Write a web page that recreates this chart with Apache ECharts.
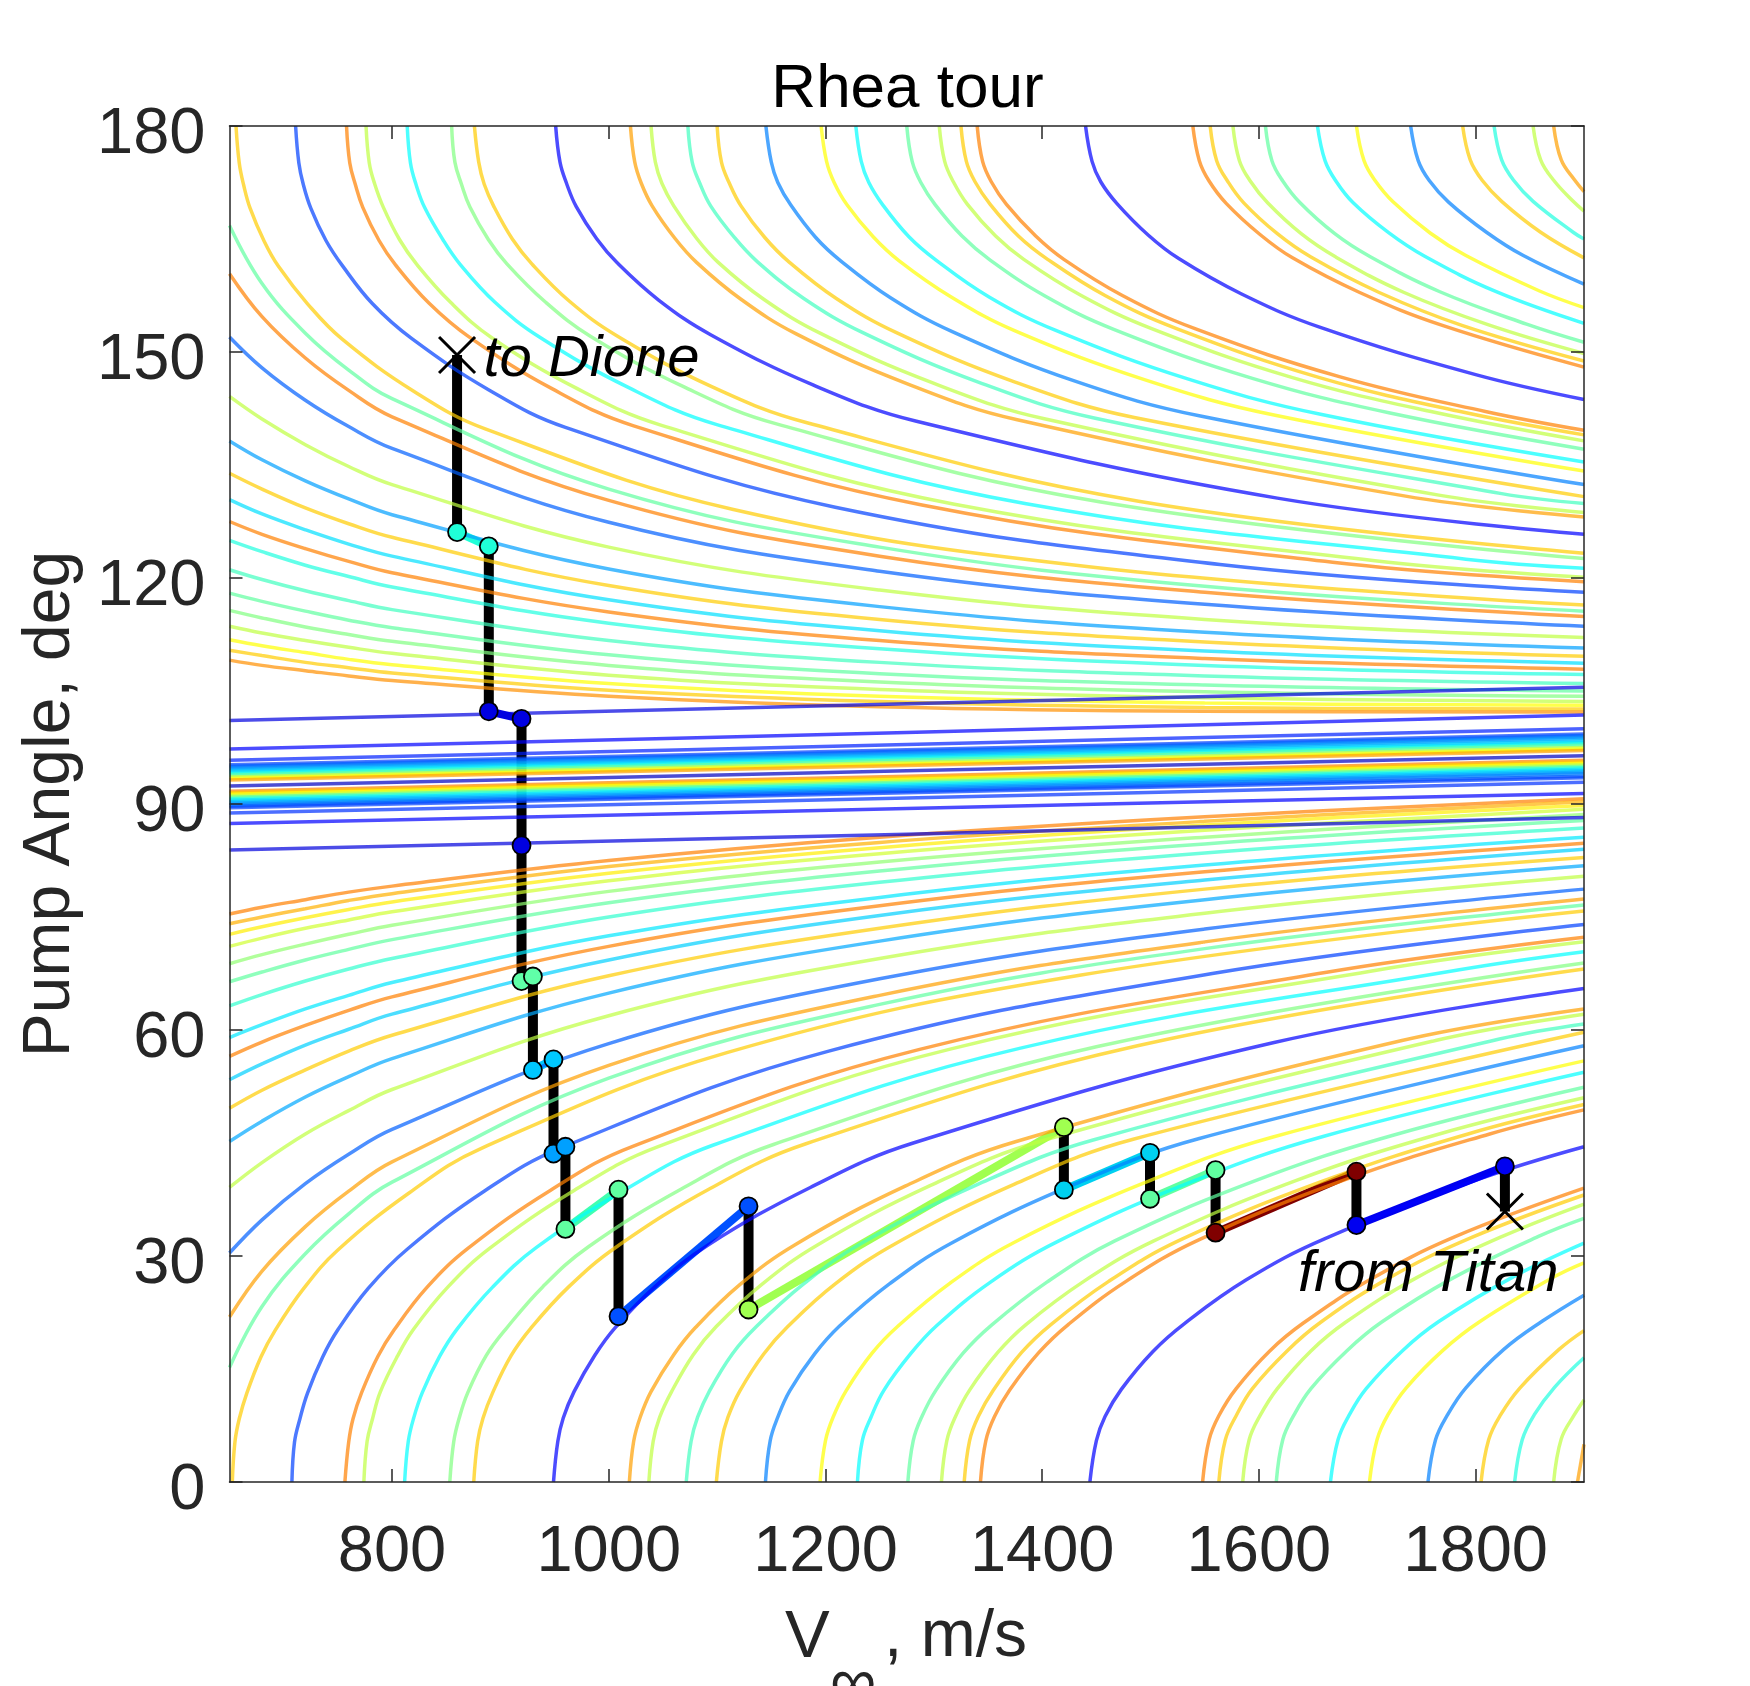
<!DOCTYPE html>
<html>
<head>
<meta charset="utf-8">
<title>Rhea tour</title>
<script src="https://cdn.jsdelivr.net/npm/echarts@6/dist/echarts.min.js"></script>
<style>
html, body { margin: 0; padding: 0; background: #fff; overflow: hidden; }
#chart { width: 1750px; height: 1686px; }
</style>
</head>
<body>
<div id="chart"></div>
<script>
const xTicks = [800, 1000, 1200, 1400, 1600, 1800];
const yTicks = [0, 30, 60, 90, 120, 150, 180];

// contours that leave through the top of the box
const upperTop = [
  [[656,180],[659,175.1],[663,172.2],[669,169.1],[682,164.7],[695,161.4],[722,156.4],[754,151.7],[820,144.8],[886,139.8],[1115,129.1],[1443,121.5],[1900,116.4]],
  [[711,180],[714,175.1],[718,172.3],[725,169.1],[739,164.8],[754,161.5],[782,156.4],[818,151.8],[889,145],[960,140],[1209,129.4],[1564,121.8],[1900,118.1]],
  [[758,180],[761,175.1],[766,172.3],[773,169.2],[788,164.8],[803,161.6],[834,156.5],[872,151.9],[948,145.1],[1023,140.2],[1289,129.7],[1668,122.1],[1900,119.5]],
  [[776,180],[779,175.1],[784,172.3],[792,169.2],[807,164.9],[823,161.6],[854,156.6],[892,151.9],[970,145.2],[1048,140.3],[1319,129.8],[1707,122.3],[1900,120.1]],
  [[814,180],[817,175.1],[822,172.3],[830,169.2],[847,164.9],[863,161.6],[895,156.6],[936,152],[1018,145.3],[1099,140.4],[1384,129.9],[1791,122.5],[1900,121.3]],
  [[855,180],[858,175.2],[864,172.3],[872,169.2],[889,164.9],[906,161.7],[941,156.7],[983,152.1],[1069,145.4],[1154,140.5],[1454,130.1],[1900,122.6]],
  [[876,180],[880,175.2],[885,172.3],[894,169.3],[911,165],[929,161.7],[964,156.7],[1007,152.2],[1095,145.4],[1183,140.6],[1489,130.2],[1900,123.3]],
  [[951,180],[955,175.2],[961,172.4],[970,169.3],[989,165],[1008,161.8],[1046,156.9],[1094,152.3],[1189,145.6],[1284,140.8],[1617,130.6],[1900,125.8]],
  [[1020,180],[1024,175.2],[1030,172.4],[1040,169.4],[1061,165.1],[1081,161.9],[1122,157],[1173,152.4],[1275,145.8],[1377,141],[1734,130.9],[1900,128.1]],
  [[1039,180],[1043,175.2],[1049,172.4],[1060,169.4],[1081,165.1],[1101,161.9],[1143,157],[1195,152.5],[1299,145.9],[1403,141.1],[1766,131],[1900,128.7]],
  [[1073,180],[1077,175.2],[1084,172.4],[1094,169.4],[1116,165.2],[1137,162],[1180,157.1],[1234,152.6],[1341,146],[1449,141.2],[1824,131.2],[1900,129.9]],
  [[1100,180],[1104,175.2],[1111,172.5],[1122,169.4],[1144,165.2],[1166,162],[1210,157.1],[1265,152.6],[1375,146],[1485,141.3],[1900,130.8]],
  [[1145,180],[1150,175.2],[1156,172.5],[1168,169.5],[1191,165.2],[1214,162.1],[1260,157.2],[1317,152.7],[1431,146.1],[1546,141.5],[1900,132.4]],
  [[1196,180],[1201,175.3],[1208,172.5],[1220,169.5],[1244,165.3],[1268,162.1],[1316,157.3],[1375,152.8],[1495,146.3],[1615,141.6],[1900,134.2]],
  [[1228,180],[1233,175.3],[1240,172.5],[1253,169.5],[1277,165.3],[1302,162.2],[1351,157.3],[1412,152.9],[1535,146.4],[1658,141.7],[1900,135.4]],
  [[1275,180],[1280,175.3],[1288,172.5],[1301,169.6],[1326,165.4],[1352,162.2],[1403,157.4],[1466,153],[1594,146.5],[1721,141.9],[1900,137.1]],
  [[1305,180],[1310,175.3],[1318,172.6],[1331,169.6],[1357,165.4],[1383,162.3],[1436,157.5],[1501,153.1],[1631,146.6],[1762,142],[1900,138.2]],
  [[1325,180],[1330,175.3],[1338,172.6],[1352,169.6],[1378,165.4],[1405,162.3],[1458,157.5],[1524,153.1],[1656,146.6],[1789,142],[1900,139]],
  [[1340,180],[1345,175.3],[1353,172.6],[1367,169.6],[1394,165.4],[1420,162.3],[1474,157.5],[1541,153.1],[1675,146.7],[1809,142.1],[1900,139.6]],
  [[1440,180],[1446,175.3],[1454,172.6],[1469,169.7],[1498,165.5],[1526,162.4],[1584,157.7],[1656,153.3],[1800,147],[1900,143.7]],
  [[1539,180],[1545,175.4],[1554,172.7],[1570,169.7],[1601,165.6],[1631,162.5],[1693,157.9],[1770,153.5],[1900,148]],
  [[1555,180],[1561,175.4],[1571,172.7],[1586,169.8],[1617,165.7],[1648,162.6],[1711,157.9],[1788,153.5],[1900,148.8]],
  [[1576,180],[1582,175.4],[1592,172.7],[1608,169.8],[1639,165.7],[1671,162.6],[1734,157.9],[1812,153.6],[1900,149.8]],
  [[1606,180],[1612,175.4],[1622,172.7],[1638,169.8],[1670,165.7],[1702,162.7],[1767,158],[1847,153.7],[1900,151.3]],
  [[1654,180],[1661,175.4],[1671,172.7],[1687,169.8],[1720,165.8],[1753,162.7],[1819,158],[1900,153.8]],
  [[1690,180],[1697,175.4],[1707,172.8],[1724,169.9],[1758,165.8],[1791,162.8],[1859,158.1],[1900,155.9]],
  [[1740,180],[1747,175.4],[1757,172.8],[1775,169.9],[1810,165.9],[1844,162.8],[1900,159]],
  [[1788,180],[1795,175.5],[1806,172.8],[1824,170],[1860,165.9],[1900,162.5]],
  [[1817,180],[1824,175.5],[1835,172.8],[1853,170],[1890,165.9],[1900,165]],
  [[1853,180],[1860,175.5],[1872,172.8],[1890,170],[1900,168.7]],
  [[1872,180],[1879,175.5],[1891,172.9],[1900,171.3]]
];

// contours that leave through the bottom of the box
const lowerBottom = [
  [[652.6,0],[655,5.3],[659,8.4],[666,11.8],[679,16.6],[692,20.1],[718,25.6],[750,30.8],[816,38.4],[881,44.2],[1109,57],[1436,67.3],[1900,75.8]],
  [[707.6,0],[710,5.3],[715,8.4],[722,11.8],[736,16.6],[750,20.2],[778,25.7],[814,30.9],[885,38.6],[955,44.3],[1203,57.2],[1557,67.5],[1900,74]],
  [[756.5,0],[760,5.3],[764,8.4],[772,11.9],[787,16.7],[802,20.2],[832,25.8],[870,31],[946,38.7],[1021,44.5],[1286,57.4],[1664,67.7],[1900,72.3]],
  [[774,0],[777,5.4],[782,8.4],[789,11.9],[805,16.7],[820,20.3],[851,25.8],[890,31],[968,38.7],[1045,44.5],[1316,57.5],[1703,67.8],[1900,71.7]],
  [[811.6,0],[815,5.4],[820,8.5],[828,11.9],[844,16.7],[860,20.3],[893,25.9],[933,31.1],[1015,38.8],[1096,44.7],[1380,57.6],[1785,68],[1900,70.4]],
  [[853.3,0],[857,5.4],[862,8.5],[870,11.9],[887,16.8],[905,20.3],[939,25.9],[981,31.2],[1067,38.9],[1152,44.8],[1451,57.8],[1900,68.9]],
  [[875.4,0],[879,5.4],[884,8.5],[893,11.9],[910,16.8],[928,20.4],[963,25.9],[1007,31.2],[1094,39],[1182,44.9],[1488,57.9],[1900,68.1]],
  [[949,0],[953,5.4],[958,8.5],[968,12],[987,16.8],[1006,20.5],[1044,26.1],[1091,31.4],[1186,39.1],[1281,45],[1613,58.3],[1900,65.5]],
  [[1019,0],[1023,5.4],[1029,8.6],[1039,12],[1060,16.9],[1080,20.5],[1121,26.2],[1172,31.5],[1274,39.3],[1376,45.2],[1732,58.6],[1900,62.8]],
  [[1037,0],[1041,5.4],[1047,8.6],[1058,12],[1078,16.9],[1099,20.6],[1141,26.2],[1193,31.5],[1296,39.3],[1400,45.3],[1763,58.6],[1900,62.1]],
  [[1071.5,0],[1076,5.4],[1082,8.6],[1093,12.1],[1114,17],[1136,20.6],[1179,26.2],[1232,31.6],[1339,39.4],[1447,45.4],[1822,58.8],[1900,60.8]],
  [[1099.3,0],[1104,5.4],[1110,8.6],[1121,12.1],[1143,17],[1165,20.6],[1209,26.3],[1264,31.6],[1374,39.5],[1484,45.5],[1900,59.7]],
  [[1144.6,0],[1149,5.5],[1156,8.6],[1167,12.1],[1190,17],[1213,20.7],[1259,26.3],[1316,31.7],[1431,39.6],[1545,45.6],[1900,57.9]],
  [[1195,0],[1200,5.5],[1207,8.6],[1219,12.1],[1243,17.1],[1267,20.7],[1315,26.4],[1374,31.8],[1494,39.7],[1613,45.8],[1900,55.9]],
  [[1229.5,0],[1234,5.5],[1242,8.6],[1254,12.2],[1279,17.1],[1303,20.8],[1352,26.5],[1414,31.9],[1537,39.8],[1660,45.9],[1900,54.4]],
  [[1276,0],[1281,5.5],[1289,8.7],[1302,12.2],[1327,17.1],[1353,20.8],[1404,26.5],[1467,32],[1595,39.9],[1723,46],[1900,52.4]],
  [[1307,0],[1312,5.5],[1320,8.7],[1333,12.2],[1359,17.2],[1385,20.9],[1438,26.6],[1503,32],[1634,40],[1764,46.1],[1900,51]],
  [[1328,0],[1333,5.5],[1341,8.7],[1355,12.2],[1381,17.2],[1408,20.9],[1461,26.6],[1527,32.1],[1660,40],[1793,46.2],[1900,50.1]],
  [[1343,0],[1348,5.5],[1356,8.7],[1370,12.2],[1397,17.2],[1424,20.9],[1477,26.6],[1544,32.1],[1679,40.1],[1813,46.2],[1900,49.4]],
  [[1444,0],[1450,5.5],[1458,8.7],[1473,12.3],[1502,17.3],[1531,21],[1588,26.8],[1661,32.3],[1805,40.3],[1900,44.5]],
  [[1548,0],[1554,5.6],[1563,8.8],[1579,12.4],[1610,17.4],[1641,21.1],[1703,26.9],[1780,32.5],[1900,39]],
  [[1563,0],[1569,5.6],[1579,8.8],[1594,12.4],[1626,17.4],[1657,21.2],[1719,27],[1797,32.5],[1900,38.1]],
  [[1585,0],[1591,5.6],[1601,8.8],[1617,12.4],[1648,17.4],[1680,21.2],[1744,27],[1823,32.5],[1900,36.9]],
  [[1616,0],[1622,5.6],[1632,8.8],[1648,12.4],[1681,17.4],[1713,21.2],[1778,27],[1858,32.6],[1900,35]],
  [[1666,0],[1673,5.6],[1683,8.8],[1699,12.4],[1733,17.5],[1766,21.3],[1833,27.1],[1900,31.7]],
  [[1702,0],[1709,5.6],[1719,8.9],[1736,12.5],[1770,17.5],[1804,21.3],[1872,27.2],[1900,29.1]],
  [[1756,0],[1763,5.6],[1774,8.9],[1791,12.5],[1826,17.6],[1861,21.3],[1900,24.8]],
  [[1805,0],[1812,5.6],[1823,8.9],[1841,12.5],[1877,17.6],[1900,20.1]],
  [[1836,0],[1843,5.6],[1854,8.9],[1873,12.6],[1900,16.5]],
  [[1872,0],[1879,5.7],[1891,8.9],[1900,10.9]],
  [[1894,0],[1900,5]]
];

const arcColors = ['#ffcc00','#0040ff','#ff8000','#bfff40','#00ffff','#80ff80','#ffcc00','#0000ff',
  '#ffa000','#bfff40','#40ffbf','#ffcc00','#0080ff','#ffff00','#00ffff','#60ffa0','#bfff40','#ffcc00',
  '#ff8000','#0000ff','#ff8000','#ffcc00','#bfff40','#60ffa0','#00ffff','#ffff00','#0080ff','#ffcc00',
  '#20ffdf','#bfff40','#ffa000'];

// contours that cross the left edge, read at sideV
const sideV = [650, 680, 720, 760, 800, 1000, 1250, 1550, 1900];
const upperSide = [
  [166.8,159.1,152.5,147.6,143.8,131.8,124.1,118.9,115.6],
  [160.4,154.7,149.2,144.9,141.4,130.3,122.9,118.1,114.9],
  [152,147.9,143.6,140.1,137.2,127.4,120.9,116.5,113.6],
  [144.1,141.1,137.7,134.8,132.4,124.1,118.4,114.5,112.1],
  [138.2,135.7,132.9,130.5,128.4,121.2,116.2,112.8,110.7],
  [133.9,131.8,129.3,127.2,125.4,119,114.5,111.5,109.6],
  [130.4,128.5,126.4,124.5,122.9,117.1,113,110.3,108.7],
  [127.5,125.8,123.9,122.2,120.7,115.5,111.7,109.3,107.9],
  [125,123.5,121.7,120.2,118.8,114,110.6,108.4,107.2],
  [121.1,119.8,118.3,117,115.8,111.7,108.8,107,106],
  [118,116.9,115.6,114.4,113.4,109.8,107.3,105.8,105],
  [115.7,114.7,113.5,112.5,111.6,108.4,106.2,104.9,104.3],
  [113.6,112.7,111.7,110.8,110,107.1,105.2,104.1,103.6],
  [111.8,111,110.1,109.2,108.5,106,104.3,103.4,103.1],
  [110.4,109.7,108.8,108.1,107.4,105.1,103.6,102.8,102.6],
  [109.1,108.4,107.7,107,106.4,104.3,102.9,102.3,102.2]
];
const upperSideColors = ['#60ffa0','#ff8000','#0060ff','#bfff40','#00a0ff','#ffcc00','#00e0ff','#ff8000',
  '#20ffdf','#40ffbf','#60ffa0','#80ff80','#bfff40','#ffff00','#ffcc00','#ff9000'];
const lowerSide = [
  [75.4,76.3,77.3,78.3,79.1,82.5,85.6,88.3,90.7],
  [74.1,75,76.1,77.2,78.1,81.7,84.9,87.7,90.3],
  [72.7,73.7,74.9,76,77,80.8,84.2,87.2,89.8],
  [71.1,72.2,73.5,74.6,75.7,79.8,83.4,86.5,89.3],
  [68.8,70,71.4,72.7,73.9,78.4,82.3,85.6,88.6],
  [66.4,67.7,69.3,70.7,72,76.9,81.1,84.7,87.8],
  [63.2,64.7,66.5,68.1,69.5,75,79.6,83.5,86.8],
  [59,60.7,62.8,64.6,66.3,72.5,77.6,81.9,85.6],
  [56.5,58.4,60.6,62.6,64.4,71.1,76.5,81,84.8],
  [53.4,55.5,58,60.1,62.1,69.3,75.2,79.9,84],
  [49.6,52,54.7,57.2,59.3,67.2,73.5,78.7,82.9],
  [45.2,47.9,51.1,53.8,56.2,64.9,71.8,77.3,81.8],
  [39.1,42.4,46.2,49.3,52.1,61.9,69.5,75.5,80.4],
  [30.4,34.8,39.6,43.5,46.8,58.2,66.8,73.4,78.7],
  [21.9,28,33.9,38.6,42.5,55.3,64.6,71.7,77.4],
  [15.2,23.3,30.3,35.6,39.8,53.6,63.4,70.8,76.6]
];
const lowerSideColors = ['#ff8000','#ffb000','#ffee00','#d0ff30','#90ff70','#60ffa0','#30ffcf','#00e8ff',
  '#ff8000','#00d0ff','#ffcc00','#00a8ff','#bfff40','#0060ff','#ffa000','#60ffa0'];

// nearly straight contours round the 90 deg band, read at bandV
const bandV = [650, 1275, 1900];
const bandLines = [
  [101.1,103.3,105.5],[97.3,99.5,101.8],[95.8,97.9,100],
  [95.2,97.2,99.3],[95,97,99.1],[94.8,96.8,98.9],[94.6,96.6,98.7],[94.4,96.4,98.4],[94.2,96.2,98.2],
  [94,96,98],[93.8,95.8,97.8],[93.6,95.5,97.5],[93.4,95.3,97.3],[93.2,95.1,97.1],
  [92.4,94.4,96.4],
  [91.7,93.7,95.8],[91.5,93.5,95.6],[91.3,93.3,95.4],[91.1,93.1,95.2],[90.9,92.9,95],[90.7,92.7,94.8],
  [90.5,92.5,94.6],[90.3,92.3,94.4],[90.1,92.1,94.2],[89.9,91.9,94],[89.7,91.7,93.7],[89.5,91.5,93.5],
  [88.8,90.8,92.9],[87.4,89.4,91.4],[83.9,86,88.2]
];
const bandColors = ['#0000e0','#0000ff','#0020ff',
  '#0040ff','#0060ff','#0080ff','#00a0ff','#00c0ff','#00e0ff','#20ffdf','#60ffa0','#bfff40','#ffff00','#ffa000',
  '#0000c0',
  '#ff8000','#ffcc00','#ffff00','#bfff40','#60ffa0','#20ffdf','#00e0ff','#00c0ff','#00a0ff','#0080ff','#0060ff','#0040ff',
  '#0030ff','#0000ff','#0000dd'];

// the tour itself
const tourDrops = [
  [860,149.6,126.1],[889.3,124.2,102.3],[919.5,101.3,84.5],[919.5,84.5,66.5],[930,67.1,54.7],[949,56.1,43.6],
  [960,44.5,33.6],[1009,38.8,22],[1129,36.6,22.9],[1420,47.1,38.8],[1499.5,43.7,37.6],[1560,41.4,33.1],
  [1690,41.2,34.1],[1827,41.9,35.9]
];
const tourArcs = [
  [[860,126.1],[889.3,124.2]],[[889.3,102.3],[919.5,101.3]],[[919.5,66.5],[930,67.1]],[[930,54.7],[949,56.1]],
  [[949,43.6],[960,44.5]],[[960,33.6],[1009,38.8]],[[1009,22],[1129,36.6]],[[1129,22.9],[1420,47.1]],
  [[1420,38.8],[1499.5,43.7]],[[1499.5,37.6],[1560,41.4]],[[1560,33.1],[1690,41.2]],[[1690,34.1],[1827,41.9]]
];
const tourArcColors = ['#20ffd8','#0000e0','#60ffa8','#00c8ff','#00a0ff','#40ffb0','#0050ff','#a0ff50',
  '#00d0f0','#60ffa0','#800000','#0000f0'];
const flybys = [
  [860,126.1],[889.3,124.2],[889.3,102.3],[919.5,101.3],[919.5,84.5],[919.5,66.5],[930,67.1],[930,54.7],[949,56.1],
  [949,43.6],[960,44.5],[960,33.6],[1009,38.8],[1009,22],[1129,36.6],[1129,22.9],[1420,47.1],[1420,38.8],
  [1499.5,43.7],[1499.5,37.6],[1560,41.4],[1560,33.1],[1690,41.2],[1690,34.1],[1827,41.9]
];
const flybyColors = ['#20ffd8','#20ffd8','#0000e0','#0000e0','#0000e0','#60ffa8','#60ffa8','#00c8ff','#00c8ff',
  '#00a0ff','#00a0ff','#60ffa0','#60ffa0','#0050ff','#0050ff','#a0ff50','#a0ff50','#00d0f0','#00d0f0',
  '#60ffa0','#60ffa0','#800000','#800000','#0000f0','#0000f0'];
const tourEnds = [[860,149.6],[1827,35.9]];
const notes = [{ text: 'to Dione', at: [884.4,149] }, { text: 'from Titan', at: [1636,27.5] }];

const FONT = '"Liberation Sans", Arial, sans-serif';
const INK = '#262626';

function contour(points, color) {
  return {
    type: 'line', data: points, smooth: 0.4, showSymbol: false, symbol: 'none',
    lineStyle: { color, width: 3.5, opacity: 0.7 }, z: 3, silent: true
  };
}

function columns(xs, row) {
  return row.map((a, i) => [xs[i], a]);
}

const series = [];
tourDrops.forEach(d => {
  series.push({
    type: 'line', data: [[d[0], d[1]], [d[0], d[2]]], symbol: 'none',
    lineStyle: { color: '#000', width: 10, cap: 'butt' }, z: 1, silent: true
  });
});
tourArcs.forEach((a, i) => {
  series.push({
    type: 'line', data: a, symbol: 'none',
    lineStyle: { color: tourArcColors[i], width: 8 }, z: 2, silent: true
  });
});
upperTop.forEach((c, i) => series.push(contour(c, arcColors[i])));
lowerBottom.forEach((c, i) => series.push(contour(c, arcColors[i])));
upperSide.forEach((r, i) => series.push(contour(columns(sideV, r), upperSideColors[i])));
lowerSide.forEach((r, i) => series.push(contour(columns(sideV, r), lowerSideColors[i])));
bandLines.forEach((r, i) => series.push(contour(columns(bandV, r), bandColors[i])));

series.push({
  type: 'scatter', symbol: 'circle', symbolSize: 18, z: 5, silent: true, clip: false,
  data: flybys.map((p, i) => ({ value: p, itemStyle: { color: flybyColors[i] } })),
  itemStyle: { borderColor: '#000', borderWidth: 1.8, opacity: 1 }
});
series.push({
  type: 'scatter', symbol: 'path://M0 0L10 10M10 0L0 10', symbolSize: 36, z: 6, silent: true,
  data: tourEnds,
  itemStyle: { color: 'none', borderColor: '#000', borderWidth: 3, opacity: 1 }
});
notes.forEach(n => {
  series.push({
    type: 'scatter', symbolSize: 1, z: 7, silent: true, data: [n.at],
    itemStyle: { color: 'transparent' },
    label: {
      show: true, formatter: n.text, position: 'inside', align: 'left', verticalAlign: 'middle', opacity: 1,
      fontFamily: FONT, fontStyle: 'italic', fontSize: 58, color: '#000', textBorderWidth: 0
    }
  });
});

const boxLine = { show: true, onZero: false, lineStyle: { color: INK, width: 1.5 } };
const boxTick = { show: true, inside: true, length: 13, lineStyle: { color: INK, width: 1.5 } };
const tickFont = { fontFamily: FONT, fontSize: 65, color: INK };

const chart = echarts.init(document.getElementById('chart'), null, { renderer: 'canvas' });
chart.setOption({
  animation: false,
  backgroundColor: '#fff',
  title: {
    text: 'Rhea tour', left: 902.5, top: 54, textAlign: 'center',
    textStyle: { fontFamily: FONT, fontSize: 62, fontWeight: 'normal', color: '#000' }
  },
  grid: { left: 229.5, top: 126, width: 1354.5, height: 1356, containLabel: false },
  xAxis: [
    {
      type: 'value', min: 650, max: 1900, position: 'bottom', z: 6, splitLine: { show: false },
      axisLine: boxLine, axisTick: { ...boxTick, customValues: xTicks },
      axisLabel: { ...tickFont, margin: 39, customValues: xTicks, formatter: v => String(v) }
    },
    {
      type: 'value', min: 650, max: 1900, position: 'top', z: 6, splitLine: { show: false },
      axisLine: boxLine, axisTick: { ...boxTick, customValues: xTicks }, axisLabel: { show: false }
    }
  ],
  yAxis: [
    {
      type: 'value', min: 0, max: 180, position: 'left', z: 6, splitLine: { show: false },
      axisLine: boxLine, axisTick: { ...boxTick, customValues: yTicks },
      axisLabel: {
        ...tickFont, margin: 24, customValues: yTicks, formatter: v => '{t|' + v + '}',
        rich: { t: { ...tickFont, padding: [18, 0, 0, 0] } }
      },
      name: 'Pump Angle, deg', nameLocation: 'middle', nameGap: 146, nameRotate: 90,
      nameTextStyle: { fontFamily: FONT, fontSize: 66, color: INK }
    },
    {
      type: 'value', min: 0, max: 180, position: 'right', z: 6, splitLine: { show: false },
      axisLine: boxLine, axisTick: { ...boxTick, customValues: yTicks }, axisLabel: { show: false }
    }
  ],
  graphic: [
    { type: 'text', left: 785, top: 1605, silent: true, style: { text: 'V', font: '67px ' + FONT, fill: INK } },
    { type: 'text', left: 830, top: 1653, silent: true, style: { text: '\u221E', font: '65px ' + FONT, fill: INK } },
    { type: 'text', left: 884, top: 1605, silent: true, style: { text: ', m/s', font: '66px ' + FONT, fill: INK } }
  ],
  series
});
</script>
</body>
</html>
